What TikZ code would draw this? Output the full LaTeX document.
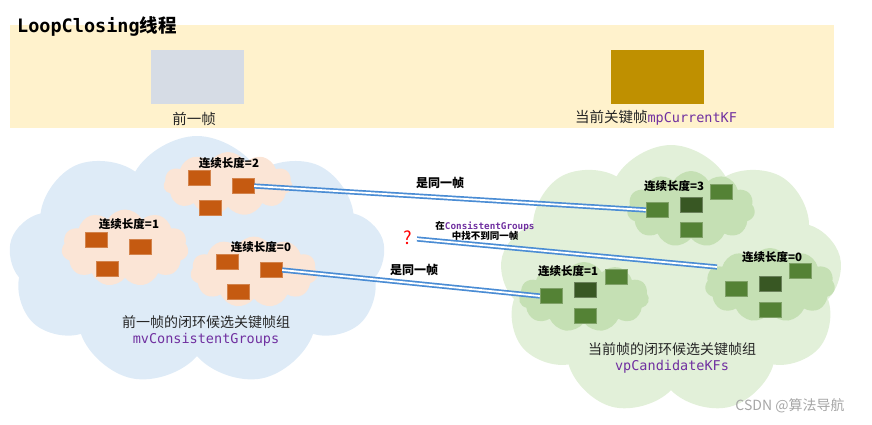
\documentclass[tikz,border=0pt]{standalone}
\usepackage{fontspec}
\setmainfont{Noto Sans CJK SC}
\setmonofont{DejaVu Sans Mono}
\usetikzlibrary{shapes.symbols}
\definecolor{band}{HTML}{FFF2CC}
\definecolor{prevgray}{HTML}{D6DCE5}
\definecolor{gold}{HTML}{BF9000}
\definecolor{bluecloud}{HTML}{DEEBF7}
\definecolor{peach}{HTML}{FBE5D6}
\definecolor{kforange}{HTML}{C55A11}
\definecolor{greencloud}{HTML}{E2F0D9}
\definecolor{smallgreen}{HTML}{C5E0B4}
\definecolor{kfgreen}{HTML}{548235}
\definecolor{kfdark}{HTML}{385723}
\definecolor{lineblue}{HTML}{4A8CD4}
\definecolor{purp}{HTML}{7030A0}
\definecolor{txt}{HTML}{262626}
\definecolor{wm}{HTML}{A6A6A6}
\begin{document}
\begin{tikzpicture}[x=1pt,y=-1pt,
  bigcloud/.style={cloud, cloud puffs=9, cloud puff arc=120, aspect=1.4, inner sep=0pt, draw=none},
  smallcloud/.style={cloud, cloud puffs=11, cloud puff arc=120, aspect=1.7, inner sep=0pt, draw=none},
  kf/.style={minimum width=22pt, minimum height=15pt, inner sep=0pt, line width=0.4pt},
  okf/.style={kf, fill=kforange, draw=kforange!75!white},
  gkf/.style={kf, fill=kfgreen, draw=kfgreen!75!white},
  dkf/.style={kf, fill=kfdark, draw=kfdark!75!white},
  lenlab/.style={font=\fontsize{11.5}{12}\selectfont\bfseries, text=black, inner sep=0pt},
  samelab/.style={font=\fontsize{12}{13}\selectfont\bfseries, text=black, inner sep=0pt},
  grouplab/.style={font=\fontsize{14}{17}\selectfont, text=txt, align=center, inner sep=0pt},
  link/.style={draw=lineblue, line width=1.7pt, double=white, double distance=1.8pt}
]
\useasboundingbox (0,0) rectangle (872,424);

% top band
\node[fill=band, minimum width=824pt, minimum height=103pt, inner sep=0pt, anchor=north west] (band) at (10,25) {};
\node[anchor=west, inner sep=0pt, text=black] (title) at (17,26)
  {\fontsize{18.5}{19}\selectfont\bfseries\ttfamily LoopClosing\rmfamily 线程};
\node[fill=prevgray, minimum width=93pt, minimum height=54pt, inner sep=0pt] (prev) at (197.5,77) {};
\node[inner sep=0pt, text=txt, font=\fontsize{14.5}{15}\selectfont] (prevlab) at (194,119) {前一帧};
\node[fill=gold, minimum width=93pt, minimum height=54pt, inner sep=0pt] (cur) at (657.5,77) {};
\node[inner sep=0pt, text=txt, font=\fontsize{14.5}{15}\selectfont] (curlab) at (656,118)
  {当前关键帧\textcolor{purp}{\ttfamily\fontsize{13.5}{15}\selectfont mpCurrentKF}};

% big clouds
\node[bigcloud, fill=bluecloud, minimum width=377pt, minimum height=250pt] (leftcloud) at (197,261) {};
\node[bigcloud, fill=greencloud, minimum width=343pt, minimum height=270pt] (rightcloud) at (671,280) {};

% small clouds left
\node[smallcloud, fill=peach, minimum width=129pt, minimum height=64pt] (ca) at (228,184) {};
\node[smallcloud, fill=peach, minimum width=127pt, minimum height=77pt] (cb) at (125,248) {};
\node[smallcloud, fill=peach, minimum width=127pt, minimum height=71pt] (cc) at (254,272) {};
% small clouds right
\node[smallcloud, fill=smallgreen, minimum width=128pt, minimum height=76pt] (cd) at (691,209) {};
\node[smallcloud, fill=smallgreen, minimum width=130pt, minimum height=70pt] (ce) at (584,297) {};
\node[smallcloud, fill=smallgreen, minimum width=130pt, minimum height=74pt] (cf) at (770,285) {};

% key frames left
\node[okf] (a1) at (199,178) {};
\node[okf] (a2) at (243,186) {};
\node[okf] (a3) at (210,208) {};
\node[okf] (b1) at (96,240) {};
\node[okf] (b2) at (140,247) {};
\node[okf] (b3) at (107,269) {};
\node[okf] (c1) at (227,262) {};
\node[okf] (c2) at (271,270) {};
\node[okf] (c3) at (238,292) {};
% key frames right
\node[gkf] (d1) at (657,210) {};
\node[dkf] (d2) at (691,205) {};
\node[gkf] (d3) at (721,192) {};
\node[gkf] (d4) at (691,230) {};
\node[gkf] (e1) at (551,296) {};
\node[dkf] (e2) at (585,290) {};
\node[gkf] (e3) at (616,277) {};
\node[gkf] (e4) at (585,316) {};
\node[gkf] (f1) at (736,289) {};
\node[dkf] (f2) at (770,284) {};
\node[gkf] (f3) at (800,271) {};
\node[gkf] (f4) at (770,310) {};

% length labels
\node[lenlab] (la) at (229,163) {连续长度=2};
\node[lenlab] (lb) at (129,224) {连续长度=1};
\node[lenlab] (lc) at (261,247) {连续长度=0};
\node[lenlab] (ld) at (674,186) {连续长度=3};
\node[lenlab] (le) at (568,271) {连续长度=1};
\node[lenlab] (lf) at (772,257) {连续长度=0};

% group labels
\node[grouplab] (lgl) at (206,331)
  {前一帧的闭环候选关键帧组\\[-1pt]\textcolor{purp}{\ttfamily\fontsize{13.5}{15}\selectfont mvConsistentGroups}};
\node[grouplab] (rgl) at (672,358)
  {当前帧的闭环候选关键帧组\\[-1pt]\textcolor{purp}{\ttfamily\fontsize{13.5}{15}\selectfont vpCandidateKFs}};

% connectors
\draw[link] (a2.east) -- (d1.west);
\draw[link] (c2.east) -- (e1.west);
\node[inner sep=0pt, text=red, font=\fontsize{18}{19}\selectfont] (qm) at (408,238) {?};
\coordinate (qstart) at (417,239);
\coordinate (fend) at (717,267);
\draw[link] (qstart) -- (fend);

% connector labels
\node[samelab] (s1) at (440,183) {是同一帧};
\node[samelab] (s2) at (414,270) {是同一帧};
\node[inner sep=0pt, align=center, font=\fontsize{9.5}{11}\selectfont\bfseries, text=black] (notfound) at (485,231)
  {在\textcolor{purp}{\ttfamily\fontsize{9.3}{11}\selectfont ConsistentGroups}\\[-1.5pt]中找不到同一帧};

% watermark
\node[inner sep=0pt, text=wm, font=\fontsize{14}{15}\selectfont] (wmark) at (790,406) {CSDN @算法导航};
\end{tikzpicture}
\end{document}
